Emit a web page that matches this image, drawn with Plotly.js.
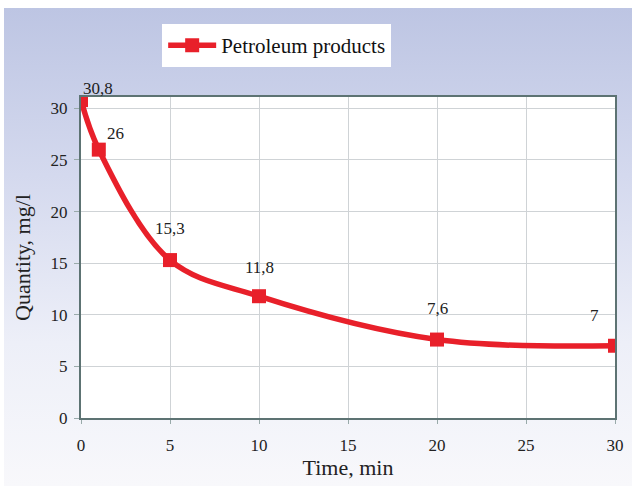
<!DOCTYPE html>
<html><head><meta charset="utf-8">
<script src="https://cdn.plot.ly/plotly-3.0.1.min.js"></script>
<style>
html,body{margin:0;padding:0;background:#fff;}
#bg{position:absolute;left:4px;top:8px;width:628px;height:478px;background:linear-gradient(to bottom,#bdc5e3 0%,#d4d9ee 35%,#edeff8 70%,#f8f8fb 100%);}
#chart{position:absolute;left:0;top:0;width:634px;height:488px;}
</style></head><body>
<div id="bg"></div>
<div id="chart"></div>
<script>
const time = [0, 1, 5, 10, 20, 30];
const quantity = [30.8, 26, 15.3, 11.8, 7.6, 7];
const labels = ["30,8", "26", "15,3", "11,8", "7,6", "7"];
const xTicks = [0, 5, 10, 15, 20, 25, 30];
const yTicks = [0, 5, 10, 15, 20, 25, 30];
const labelShift = [[17, 12], [17, 16], [0, 32], [0, 29], [0, 31], [-21, 30]];

const trace = {
  x: time, y: quantity, type: 'scatter', mode: 'lines+markers',
  name: 'Petroleum products',
  line: {color: '#e8202a', width: 5.5, shape: 'spline', smoothing: 1},
  marker: {symbol: 'square', size: 14, color: '#e8202a'}
};
const annotations = time.map((t, i) => ({
  x: t, y: quantity[i], xref: 'x', yref: 'y', text: labels[i], showarrow: false,
  xshift: labelShift[i][0], yshift: labelShift[i][1],
  font: {family: 'Liberation Serif', size: 17, color: '#222'}
}));
const layout = {
  width: 634, height: 488,
  paper_bgcolor: 'rgba(0,0,0,0)', plot_bgcolor: '#ffffff',
  margin: {l: 81, r: 19, t: 97, b: 70},
  font: {family: 'Liberation Serif', color: '#222'},
  showlegend: true,
  legend: {x: 0.152, xanchor: 'left', y: 1.227, yanchor: 'top',
    orientation: 'h', bgcolor: '#ffffff', bordercolor: '#ffffff', borderwidth: 1,
    itemwidth: 48,
    font: {family: 'Liberation Serif', size: 21, color: '#111'}},
  xaxis: {range: [0, 30], tickvals: xTicks, ticktext: xTicks.map(String),
    showgrid: true, gridcolor: '#cfd3d6', gridwidth: 1, zeroline: false,
    showline: true, linecolor: '#5d7373', linewidth: 2, mirror: true,
    ticks: 'outside', ticklen: 4, tickcolor: '#9aa', ticklabelstandoff: 7,
    tickfont: {size: 17}, title: {text: 'Time, min', font: {size: 22}, standoff: 3}},
  yaxis: {range: [0, 31.1], tickvals: yTicks, ticktext: yTicks.map(String),
    showgrid: true, gridcolor: '#cfd3d6', gridwidth: 1, zeroline: false,
    showline: true, linecolor: '#5d7373', linewidth: 2, mirror: true,
    ticks: 'outside', ticklen: 5, tickcolor: '#9aa', ticklabelstandoff: 3,
    tickfont: {size: 17}, title: {text: 'Quantity, mg/l', font: {size: 22}, standoff: 14}},
  annotations: annotations
};
Plotly.newPlot('chart', [trace], layout, {displayModeBar: false, staticPlot: true});
</script>
</body></html>
